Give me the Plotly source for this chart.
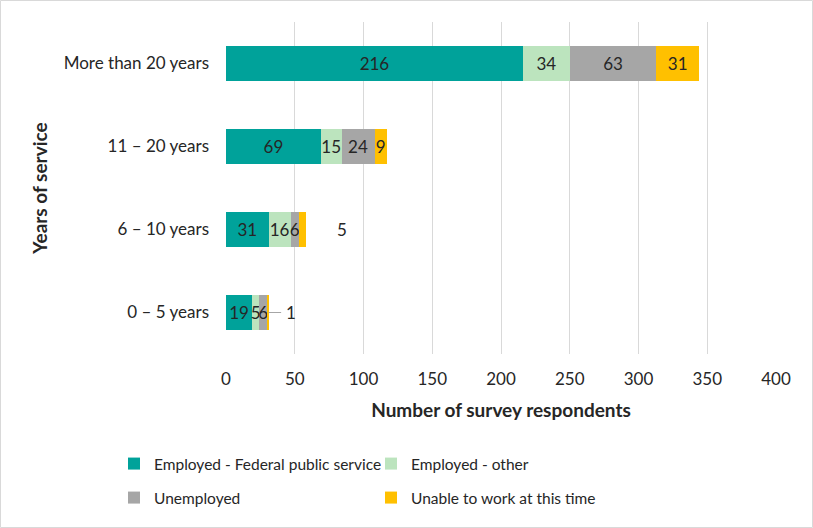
import plotly.graph_objects as go

categories = ["0 – 5 years", "6 – 10 years", "11 – 20 years", "More than 20 years"]
series_names = ["Employed - Federal public service", "Employed - other", "Unemployed", "Unable to work at this time"]
fed = [19, 31, 69, 216]
other = [5, 16, 15, 34]
unemployed = [6, 6, 24, 63]
unable = [1, 5, 9, 31]
x_ticks = [0, 50, 100, 150, 200, 250, 300, 350, 400]

colors = ["#00A29A", "#BCE4BE", "#A6A6A6", "#FFC000"]
FONT = "Lato"
TXT = "#262626"
FS = 17

W, H = 813, 528
ML, MR, MT, MB = 226, 37, 22, 174
PW, PH = W - ML - MR, H - MT - MB

fig = go.Figure()
all_series = [fed, other, unemployed, unable]
for i, (name, vals) in enumerate(zip(series_names, all_series)):
    texts = [str(v) for v in vals]
    if i == 3:
        texts = ["", "", str(vals[2]), str(vals[3])]
    fig.add_trace(go.Bar(
        y=categories, x=vals, name=name, orientation="h",
        marker=dict(color=colors[i], line=dict(width=0)),
        text=texts, textposition="inside", insidetextanchor="middle",
        textangle=0, textfont=dict(family=FONT, size=FS, color=TXT),
        legend="legend" if i < 2 else "legend2",
        hoverinfo="x+y+name",
    ))

totals = [a + b + c + d for a, b, c, d in zip(fed, other, unemployed, unable)]

# outside label for 6 – 10 years
fig.add_annotation(x=totals[1] + 26, y=categories[1], text=str(unable[1]),
                   showarrow=False, xanchor="center",
                   font=dict(family=FONT, size=FS, color=TXT))
# leader-line label for 0 – 5 years
fig.add_annotation(x=totals[0], y=categories[0], text=str(unable[0]),
                   showarrow=True, arrowhead=0, arrowwidth=1, arrowcolor="#A6A6A6",
                   ax=22, ay=0, borderpad=4,
                   font=dict(family=FONT, size=FS, color=TXT))

# chart border
fig.add_shape(type="rect", xref="paper", yref="paper",
              x0=(0.5 - ML) / PW, x1=(W - 0.5 - ML) / PW,
              y0=-(MB - 0.5) / PH, y1=1 + (MT - 0.5) / PH,
              line=dict(color="#D9D9D9", width=1), fillcolor="rgba(0,0,0,0)", layer="below")

legend_common = dict(orientation="h", x=(114 - ML) / PW, xanchor="left", yanchor="middle",
                     entrywidth=212, entrywidthmode="pixels", traceorder="normal",
                     font=dict(family=FONT, size=15.5, color=TXT), itemwidth=30,
                     bgcolor="rgba(0,0,0,0)")

fig.update_layout(
    width=W, height=H,
    margin=dict(l=ML, r=MR, t=MT, b=MB),
    paper_bgcolor="white", plot_bgcolor="white",
    barmode="stack", bargap=0.59,
    font=dict(family=FONT, size=FS, color=TXT),
    uniformtext=dict(minsize=FS, mode="show"),
    xaxis=dict(range=[0, 400], tickvals=x_ticks, showgrid=True, gridcolor="#D9D9D9",
               gridwidth=1, zeroline=False, showline=False, ticks="",
               ticklabelstandoff=13,
               tickfont=dict(family=FONT, size=FS, color=TXT),
               title=dict(text="<b>Number of survey respondents</b>", standoff=15,
                          font=dict(family=FONT, size=19, color=TXT))),
    yaxis=dict(categoryorder="array", categoryarray=categories, showgrid=False,
               zeroline=False, showline=False, ticks="", ticklabelstandoff=16,
               tickfont=dict(family=FONT, size=FS, color=TXT),
               title=dict(text="<b>Years of service</b>", standoff=11,
                          font=dict(family=FONT, size=19, color=TXT))),
    legend=dict(y=-(464 - MT - PH) / PH, **legend_common),
    legend2=dict(y=-(498 - MT - PH) / PH, **legend_common),
    showlegend=True,
)

fig.write_html("out.html", config={"displayModeBar": False},
               post_script="document.body.style.margin='0';")
